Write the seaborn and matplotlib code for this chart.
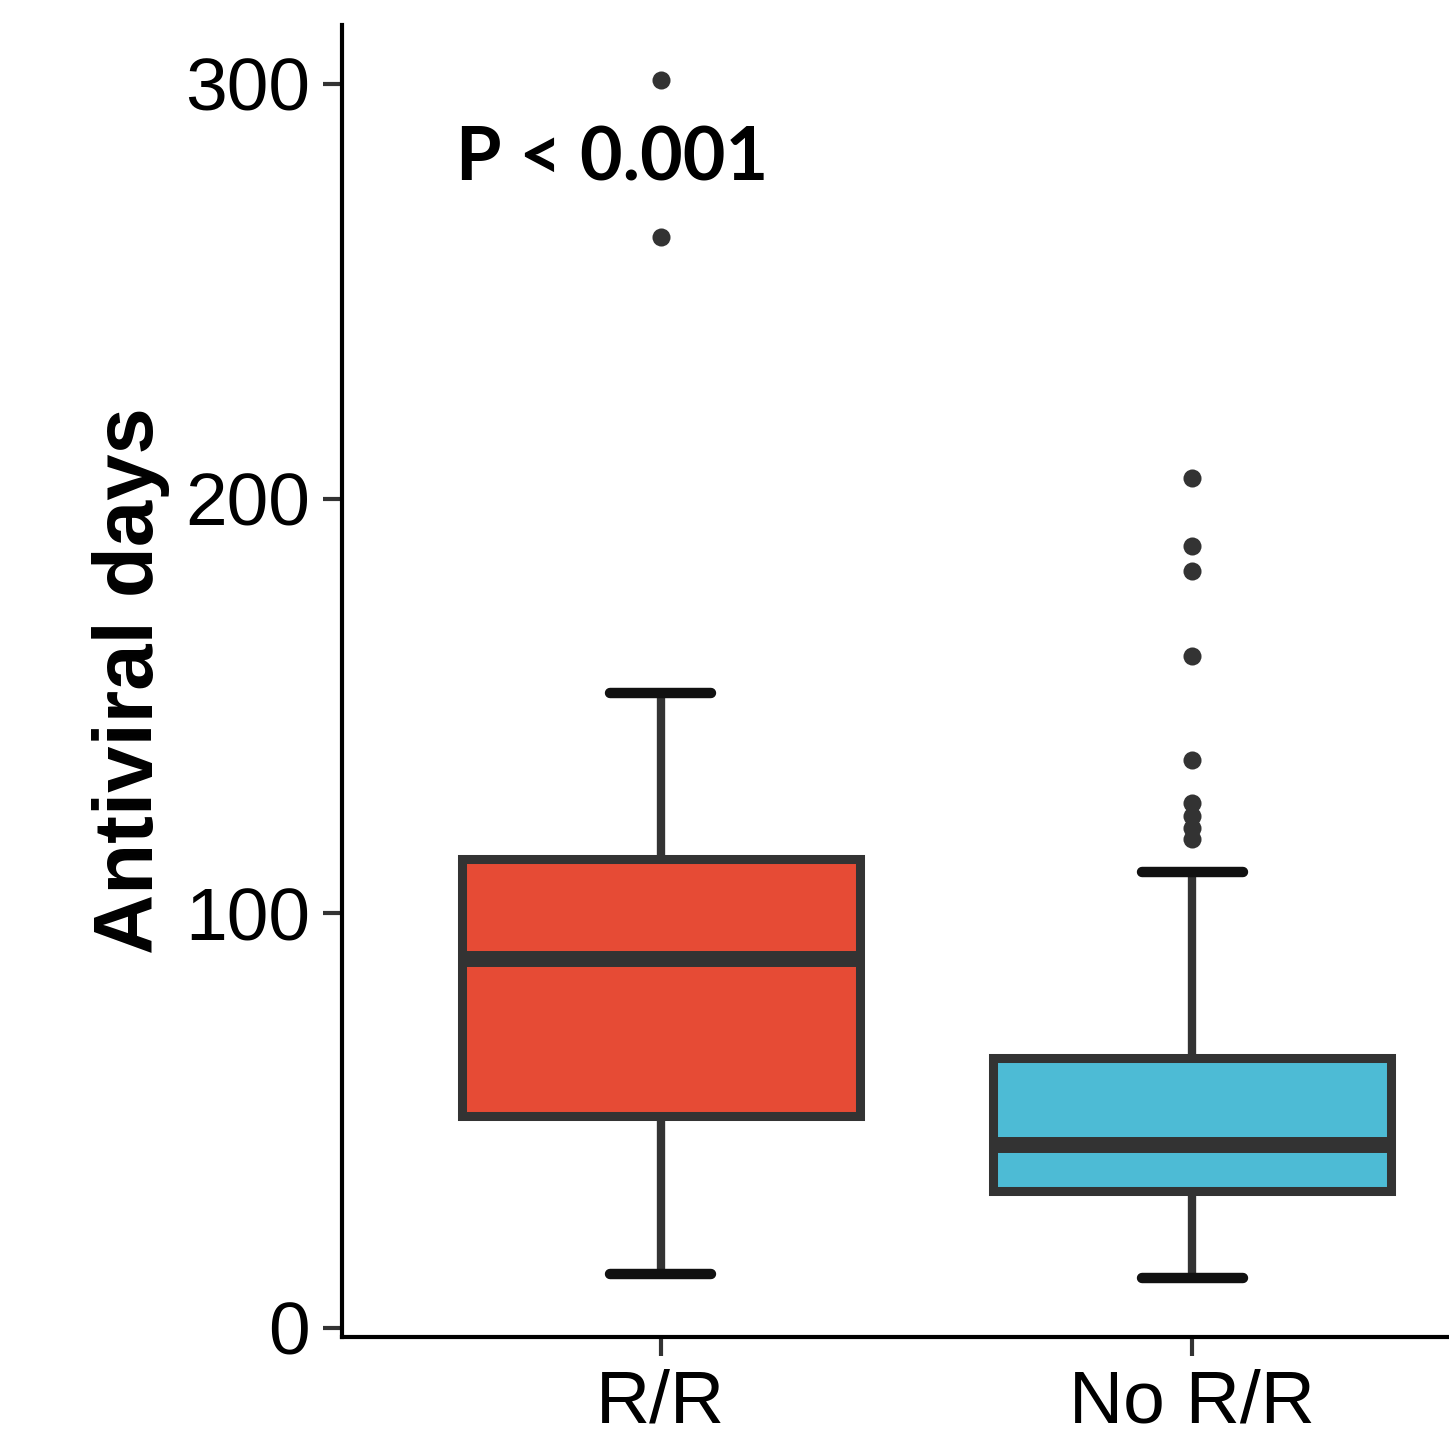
import numpy as np
import pandas as pd
import matplotlib
matplotlib.use("Agg")
import matplotlib.pyplot as plt
import seaborn as sns

# ---- data (box summary per group) ----
groups = ["R/R", "No R/R"]
whisker_low = [13, 12]
q1 = [51, 33]
median = [89, 44]
q3 = [113, 65]
whisker_high = [153, 110]
outliers_rr = [263, 301]
outliers_norr = [118, 120.5, 123.5, 126.5, 137, 162, 182.5, 188.5, 205]
outliers = [outliers_rr, outliers_norr]
colors = ["#E64B35", "#4DBBD5"]
p_text = "P < 0.001"

# Build a long-form sample whose quartiles / whiskers equal the read values
# (each summary value is weighted so the quantiles land on it exactly)
weights = [1, 20, 20, 20, 1]
rows = []
for i, g in enumerate(groups):
    stats = [whisker_low[i], q1[i], median[i], q3[i], whisker_high[i]]
    vals = list(np.repeat(stats, weights)) + list(outliers[i])
    rows += [(g, v) for v in vals]
df = pd.DataFrame(rows, columns=["group", "days"])

sns.set_theme(style="ticks")
plt.rcParams["font.family"] = ["Liberation Sans", "DejaVu Sans"]
plt.rcParams["text.color"] = "black"
plt.rcParams["axes.labelcolor"] = "black"

fig = plt.figure(figsize=(14.49, 14.38), dpi=100)
ax = fig.add_axes([342 / 1449, 101 / 1438, (1511 - 342) / 1449, 1312 / 1438])

edge = "#333333"
sns.boxplot(
    data=df, x="group", y="days", hue="group", order=groups, hue_order=groups,
    palette=colors, saturation=1, width=0.75, linewidth=6.5, linecolor=edge,
    legend=False, fliersize=13,
    flierprops=dict(marker="o", markerfacecolor=edge, markeredgecolor=edge,
                    markeredgewidth=0),
    medianprops=dict(color=edge, linewidth=11.5),
    whiskerprops=dict(color=edge, linewidth=6),
    capprops=dict(color="#111111", linewidth=7.5, gid="cap"),
    boxprops=dict(edgecolor=edge, linewidth=6.5),
    ax=ax,
)

# narrow the whisker caps (ggplot errorbar width)
for ln in ax.lines:
    if ln.get_gid() == "cap":
        xd = np.asarray(ln.get_xdata(), dtype=float)
        c = xd.mean()
        ln.set_xdata([c - 0.095, c + 0.095])

ax.set_xlim(-0.6, 1.6)
ax.set_ylim(-2.2, 314.2)
ax.set_yticks([0, 100, 200, 300])
ax.set_xlabel("")
ax.set_ylabel("Antiviral days", fontsize=60, fontweight="bold", labelpad=11,
              color="black")

for s in ["top", "right"]:
    ax.spines[s].set_visible(False)
for s in ["left", "bottom"]:
    ax.spines[s].set_color("black")
    ax.spines[s].set_linewidth(3)

ax.tick_params(axis="both", colors=edge, length=14, width=3, labelsize=54,
               labelcolor="black")
ax.tick_params(axis="y", pad=9)
ax.tick_params(axis="x", pad=9)

ax.text(-0.092, 282, p_text, fontsize=53, fontweight="bold",
        family=["Lato", "DejaVu Sans"], ha="center", va="center", color="black")

fig.savefig("out.png", dpi=100)
